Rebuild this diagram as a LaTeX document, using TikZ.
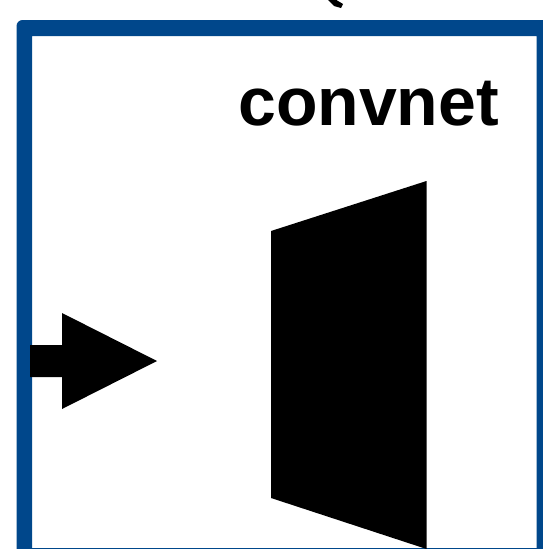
\documentclass[tikz,border=0pt]{standalone}
\usepackage{fontspec}
\setmainfont{Liberation Sans}
\definecolor{frameblue}{RGB}{0,71,139}
\begin{document}
\begin{tikzpicture}[x=1pt,y=-1pt,
  shapefill/.style={fill=black,draw=none},
  labeltext/.style={font=\bfseries\fontsize{68}{80}\selectfont,inner sep=0pt,anchor=base west}]
\useasboundingbox (0,0) rectangle (543,549);
\clip (0,0) rectangle (543,549);
% frame
\fill[frameblue,even odd rule,rounded corners=6pt] (16.5,20) rectangle (580,590)
  [sharp corners] (32,36) rectangle (536.5,548);
% small mark at top
\fill[black] (326,-2) -- (333,-2) -- (343,4) -- (341,8) -- (334,6) -- cycle;
% label
\node[labeltext] (lbl) at (238,125) {convnet};
% input arrow
\fill[shapefill] (30,345) -- (62,345) -- (62,313) -- (157,361) -- (62,409) -- (62,377) -- (30,377) -- cycle;
% convnet trapezoid
\fill[shapefill] (271,231) -- (426.5,181) -- (426.5,549) -- (271,498) -- cycle;
\end{tikzpicture}
\end{document}
